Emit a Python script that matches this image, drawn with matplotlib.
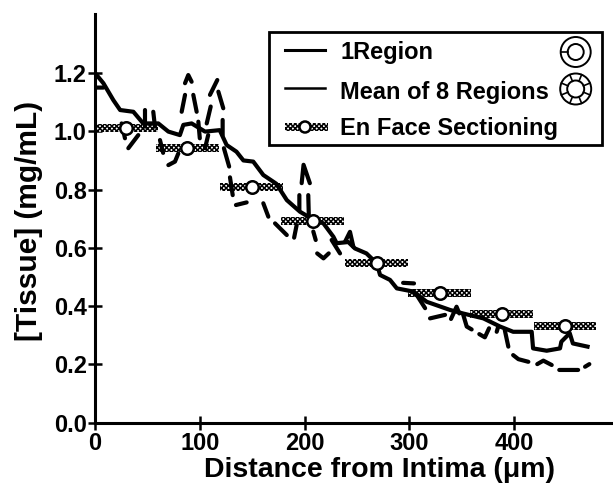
#!/usr/bin/env python3
"""Tissue concentration vs distance from intima."""

import numpy as np
import matplotlib
matplotlib.use('Agg')
import matplotlib.pyplot as plt
from matplotlib.patches import Circle, Rectangle

plt.rcParams['font.family'] = ['Liberation Sans', 'DejaVu Sans']
plt.rcParams['font.weight'] = 'bold'
plt.rcParams['hatch.linewidth'] = 1.1

# one region, solid trace
solid_x = [1.6, 8, 17.5, 24, 36.6, 46, 60.4, 70, 81, 84.3, 92.2, 100, 105, 119, 125.6,
           135, 141.6, 151, 160.6, 173, 183, 195.6, 206.8, 218, 227.5, 230.6, 241.7, 248,
           259, 268.8, 272, 281.5, 288, 303.7, 316.5, 338.7, 351, 370.6, 386.5, 399,
           416.7, 418, 431, 443.7, 445, 453, 456, 470]
solid_y = [1.193, 1.165, 1.107, 1.073, 1.067, 1.027, 1.027, 0.999, 0.987, 1.022, 1.027,
           1.01, 0.999, 1.004, 0.953, 0.93, 0.90, 0.896, 0.85, 0.82, 0.764, 0.724, 0.70,
           0.684, 0.638, 0.616, 0.62, 0.598, 0.581, 0.547, 0.507, 0.49, 0.461, 0.45,
           0.415, 0.387, 0.375, 0.358, 0.33, 0.312, 0.312, 0.255, 0.247, 0.255, 0.278,
           0.307, 0.272, 0.261]

# mean of 8 regions, broken trace (nan = gap)
nan = float('nan')
dashed_x = [0, 8, nan, 25.4, 28.6, nan, 41.3, 31.8, nan, 47.7, 47.7, nan, 55.6, 57.2, nan,
            62, 65, nan, 79.5, 76.3, 70, nan, 82.7, 85.9, nan, 85.9, 89, 92.2, nan,
            93.8, 97, nan, 98.6, 100, nan, 105, 108, nan, 106.6, 110.4, nan, 109.7, 116.7,
            nan, 117.7, 122.4, nan, 121.8, 121.8, nan, 123, 128, nan, 128.8, 131.4, nan,
            134.5, 144.7, nan, 160.6, 165.4, nan, 171.8, 183, nan, 195, 195, nan,
            197.2, 199, 205, nan, 203.5, 204, nan, 192.4, 190, nan, 208.3, 210.6, nan,
            212, 218, 223, nan, 225.8, 233.8, nan, 238.6, 243.3, 246.5, nan, 294, 304.4,
            nan, 307, 315, nan, 319.7, 334, nan, 339.7, 345, 347.6, nan, 351.4, 354.7,
            359.4, nan, 366.7, 372, 376, nan, 383.3, 384.8, nan, 391, 394.4, nan, 399,
            404, 413.5, nan, 422, 427.8, 435.8, nan, 443, 461, nan, 467.6, 471.7]
dashed_y = [1.15, 1.15, nan, 1.027, 0.976, nan, 0.987, 0.942, nan, 1.073, 1.016, nan, 1.067,
            1.016, nan, 0.97, 0.926, nan, 0.924, 0.896, 0.884, nan, 1.067, 1.125, nan,
            1.165, 1.193, 1.17, nan, 1.125, 1.067, nan, 1.033, 0.976, nan, 0.942, 0.987,
            nan, 1.027, 1.085, nan, 1.125, 1.176, nan, 1.136, 1.079, nan, 1.039, 0.987,
            nan, 0.942, 0.879, nan, 0.842, 0.781, nan, 0.747, 0.756, nan, 0.753, 0.707,
            nan, 0.684, 0.644, nan, 0.781, 0.73, nan, 0.822, 0.885, 0.822, nan, 0.781,
            0.712, nan, 0.678, 0.635, nan, 0.656, 0.627, nan, 0.581, 0.564, 0.581, nan,
            0.627, 0.581, nan, 0.621, 0.655, 0.604, nan, 0.48, 0.478, nan, 0.438, 0.393,
            nan, 0.358, 0.37, nan, 0.356, 0.398, 0.375, nan, 0.37, 0.33, 0.32, nan, 0.304,
            0.293, 0.324, nan, 0.312, 0.33, nan, 0.318, 0.261, nan, 0.232, 0.218, 0.209,
            nan, 0.201, 0.213, 0.198, nan, 0.181, 0.181, nan, 0.192, 0.201]

# en face sectioning
section_x = [30, 88, 149.5, 207.7, 268.8, 329, 388, 448.5]
section_y = [1.01, 0.942, 0.81, 0.692, 0.547, 0.444, 0.372, 0.333]
section_halfwidth = 30

xticks = [0, 100, 200, 300, 400]
yticks = [0.0, 0.2, 0.4, 0.6, 0.8, 1.0, 1.2]

W, H = 613, 483
fig = plt.figure(figsize=(W / 100, H / 100), dpi=100)
ax = fig.add_axes([95 / W, (H - 422.7) / H, (W - 95) / W, (422.7 - 14) / H])
ax.set_xlim(0, (W - 95) / 1.048)
ax.set_ylim(0, (422.7 - 14) / 291.4)

ax.barh(section_y, [2 * section_halfwidth] * len(section_x),
        left=np.maximum(np.array(section_x) - section_halfwidth, 0), height=0.028,
        color='white', edgecolor='black', hatch='xxxxxxx', linewidth=0, zorder=2)
ax.plot(dashed_x, dashed_y, color='black', lw=3.0, zorder=3, solid_capstyle='round')
ax.plot(solid_x, solid_y, color='black', lw=3.0, zorder=3, solid_joinstyle='round')
ax.plot(section_x, section_y, 'o', ms=9, mfc='white', mec='black', mew=1.8, ls='none', zorder=4)

ax.spines['top'].set_visible(False)
ax.spines['right'].set_visible(False)
ax.spines['left'].set_linewidth(2.2)
ax.spines['bottom'].set_linewidth(2.2)
ax.spines['left'].set_zorder(5)
ax.spines['bottom'].set_zorder(5)
ax.set_xticks(xticks)
ax.set_yticks(yticks)
ax.set_yticklabels([f'{v:.1f}' for v in yticks])
ax.tick_params(axis='both', direction='inout', length=10, width=1.8, labelsize=17, pad=2)
ax.tick_params(axis='y', pad=1)
ax.set_xlabel('Distance from Intima (\u03bcm)', fontsize=20.5, fontweight='bold', va='center')
ax.xaxis.set_label_coords((380 - 95) / (W - 95), -(470 - 422.7) / (422.7 - 14))
ax.set_ylabel('[Tissue] (mg/mL)', fontsize=21.5, fontweight='bold', va='center')
ax.yaxis.set_label_coords(-(95 - 29) / (W - 95), (422.7 - 221) / (422.7 - 14))

# legend box with its icons, drawn in pixel space
leg = fig.add_axes([0, 0, 1, 1], facecolor='none')
leg.set_xlim(0, W)
leg.set_ylim(H, 0)
leg.axis('off')
leg.add_patch(Rectangle((269, 32), 333, 113, fc='white', ec='black', lw=2))
leg.plot([285, 325], [50, 50], color='black', lw=2.2)
leg.plot([285, 325], [88, 88], color='black', lw=1.8)
leg.text(340, 53, '1Region', fontsize=17, va='center')
leg.text(340, 92, 'Mean of 8 Regions', fontsize=17, va='center')
leg.text(340, 128, 'En Face Sectioning', fontsize=17, va='center')
leg.add_patch(Rectangle((285, 123), 43, 8, fc='white', ec='black', hatch='xxxxxxx', lw=0))
leg.add_patch(Circle((305, 127), 5.5, fc='white', ec='black', lw=1.8, zorder=4))

leg.add_patch(Circle((575.7, 52), 15, fc='white', ec='black', lw=1.4))
leg.add_patch(Circle((575.7, 52), 8, fc='white', ec='black', lw=1.4))
leg.plot([561, 568], [52, 52], color='black', lw=1.2)
leg.add_patch(Circle((575.7, 89), 15.5, fc='white', ec='black', lw=1.4))
for a in np.arange(8) * np.pi / 4 + np.pi / 8:
    leg.plot([575.7 + 8.5 * np.cos(a), 575.7 + 15.5 * np.cos(a)],
             [89 + 8.5 * np.sin(a), 89 + 15.5 * np.sin(a)], color='black', lw=1.2)
leg.add_patch(Circle((575.7, 89), 8.5, fc='white', ec='black', lw=1.4))

fig.savefig('out.png', dpi=100)
plt.close(fig)
